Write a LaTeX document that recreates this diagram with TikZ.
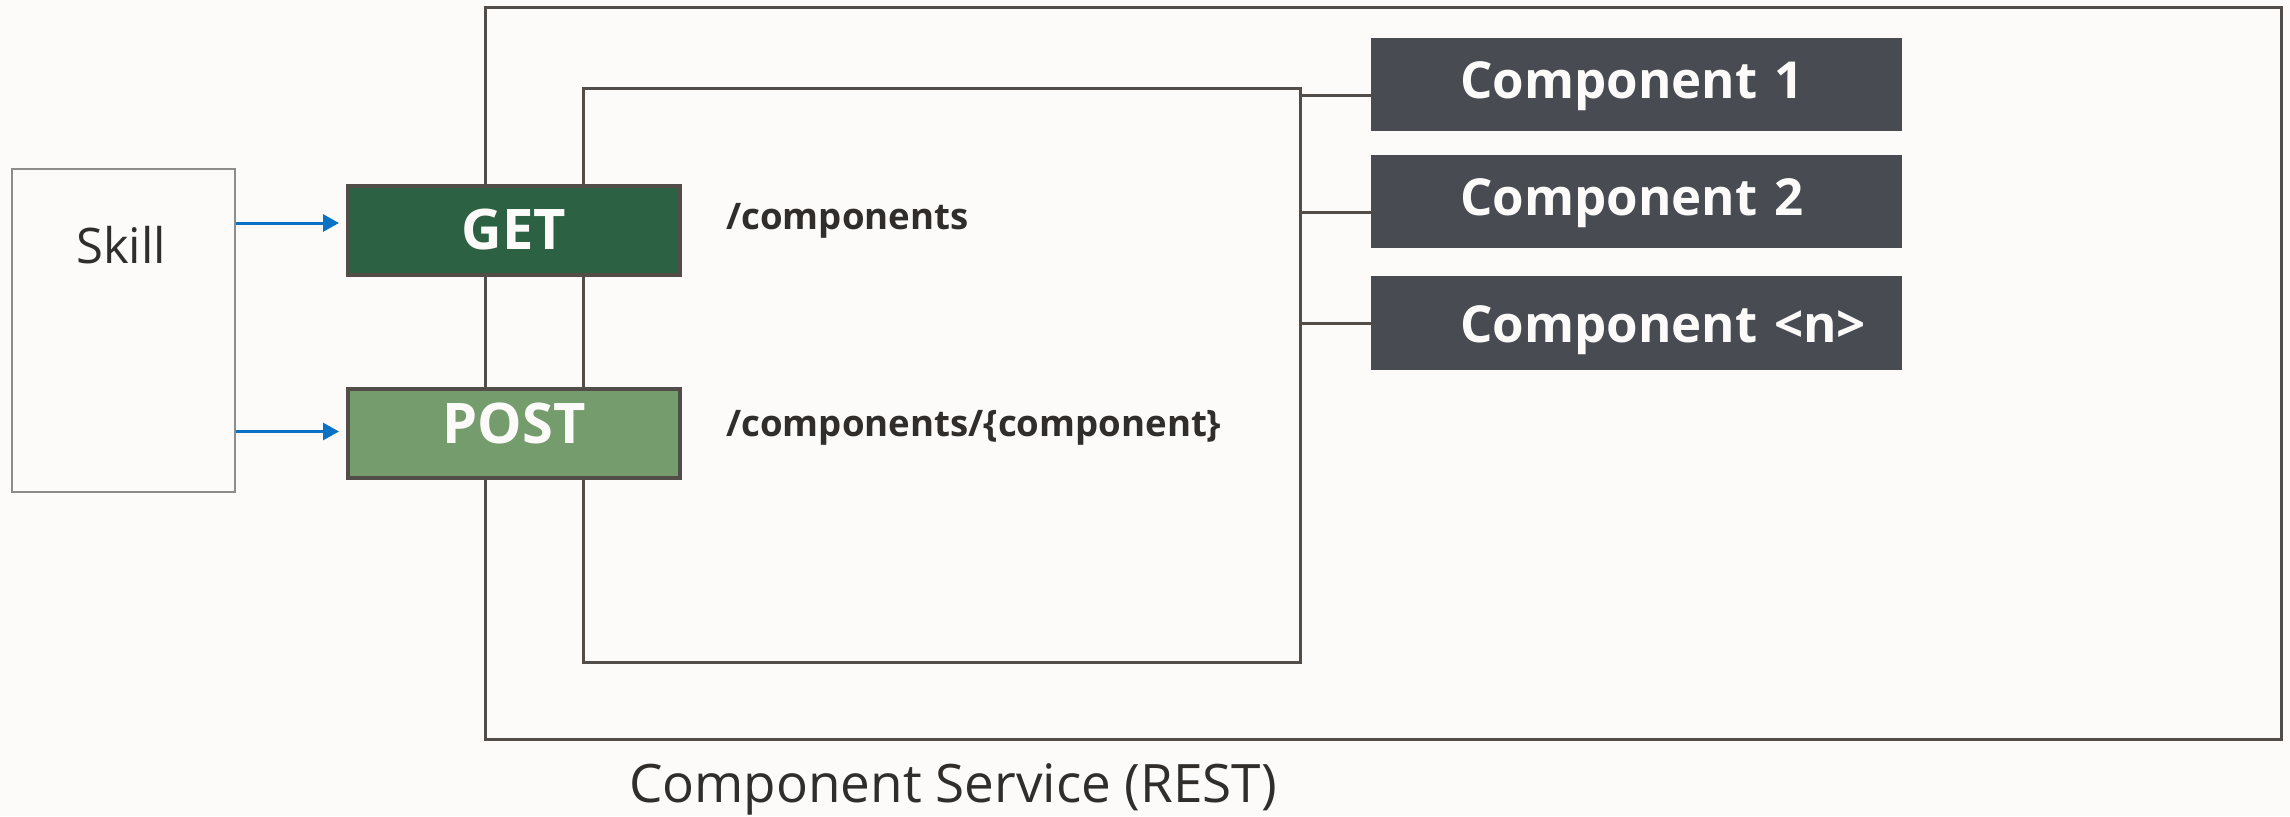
\documentclass[tikz,border=0pt]{standalone}
\usepackage{fontspec}
\setmainfont{Open Sans}
\usetikzlibrary{arrows.meta,positioning}

\definecolor{bgcol}{HTML}{FCFBFA}
\definecolor{inkcol}{HTML}{312D2A}
\definecolor{framecol}{HTML}{524D49}
\definecolor{getcol}{HTML}{2C6144}
\definecolor{postcol}{HTML}{759C6C}
\definecolor{compcol}{HTML}{484B52}
\definecolor{arrowcol}{HTML}{0A72C4}

% caps line set at a given depth below the node centre
\newcommand{\capsat}[2]{\raisebox{#1}[0pt][0pt]{#2}}

\begin{document}
\begin{tikzpicture}
	[
	 	 %Styles
       x=0.5pt, y=-0.5pt,
       every node/.style={text=inkcol},
       frame_box/.style={rectangle,draw=framecol,line width=1.5pt,fill=bgcol},
       skill_box/.style={rectangle,draw=black!45,line width=0.7pt,fill=bgcol,
                         minimum width=111.5pt,minimum height=161.5pt},
       verb_box/.style={rectangle,draw=framecol,line width=2pt,text=bgcol,
                        minimum width=166pt,minimum height=44.5pt,inner sep=0pt,
                        font=\fontsize{28}{32}\selectfont\bfseries},
       comp_box/.style={rectangle,fill=compcol,text=bgcol,
                        minimum height=46.5pt,inner xsep=0pt,
                        text width=265.5pt,align=left,
                        execute at begin node=\hspace*{44.5pt},
                        font=\fontsize{25.5}{30}\selectfont\bfseries},
       path_label/.style={anchor=west,inner sep=0pt,
                          font=\fontsize{18.3}{22}\selectfont\bfseries},
       plain_label/.style={inner sep=0pt,font=\fontsize{24.5}{28}\selectfont},
       link/.style={draw=framecol,line width=1.5pt},
       call/.style={draw=arrowcol,line width=1.5pt,
                    -{Triangle[length=8pt,width=8.5pt]},shorten >=3.5pt}
    ]

    %Canvas
    \fill[bgcol] (0,0) rectangle (2290,816);
    \useasboundingbox (0,0) rectangle (2290,816);

    %Node placement
    \node (service) [frame_box,minimum width=898pt,minimum height=366pt] at (1383,373) {};
    \node (api) [frame_box,minimum width=358.5pt,minimum height=287pt] at (941.5,375) {};
    \node (skill) [skill_box] at (123.5,330.5) {};
    \node (skilltxt) [plain_label] at (121,245) {Skill};

    \node (get) [verb_box,fill=getcol] at (514,230) {\capsat{-9.5pt}{GET}};
    \node (post) [verb_box,fill=postcol] at (514,433.5) {\capsat{-5pt}{POST}};

    \node (getpath) [path_label] at (726,221) {/components};
    \node (postpath) [path_label] at (726,428) {/components/\{component\}};

    \node (comp1) [comp_box] at (1636.5,84.5) {\capsat{-6.9pt}{Component 1}};
    \node (comp2) [comp_box] at (1636.5,201.5) {\capsat{-6.9pt}{Component 2}};
    \node (compn) [comp_box,minimum height=47pt] at (1636.5,323) {\capsat{-9.6pt}{Component <n>}};

    \node (servicetxt) [plain_label,font=\fontsize{26.5}{30}\selectfont] at (953,789) {Component Service (REST)};

    %Edges
    \draw[call] ([yshift=3.5pt]skill.east |- get.west) -- ([yshift=3.5pt]get.west);
    \draw[call] ([yshift=1pt]skill.east |- post.west) -- ([yshift=1pt]post.west);
    \path[link]
       ([yshift=-5.5pt]comp1.west) edge ([yshift=-5.5pt]comp1.west -| api.east)
       ([yshift=-5.5pt]comp2.west) edge ([yshift=-5.5pt]comp2.west -| api.east)
       (compn.west) edge (compn.west -| api.east);
\end{tikzpicture}
\end{document}
